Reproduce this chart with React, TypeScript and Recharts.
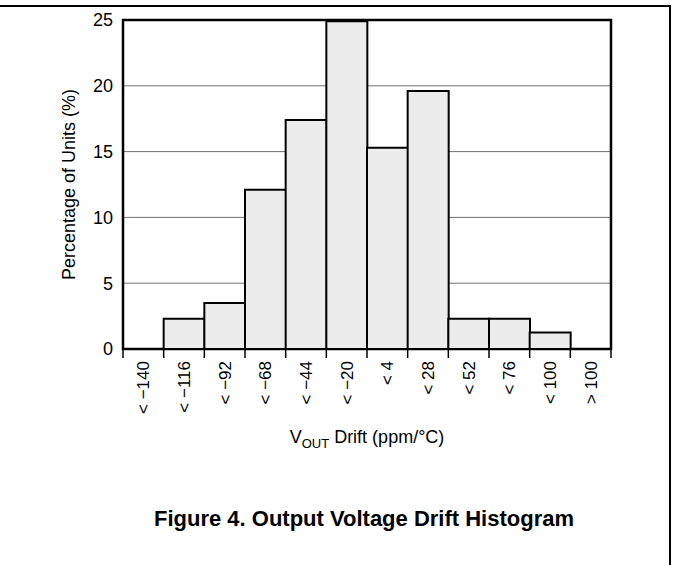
import { Bar, BarChart, CartesianGrid, Label, ReferenceArea, XAxis, YAxis } from 'recharts';

const BINS = ['< \u2212140', '< \u2212116', '< \u221292', '< \u221268', '< \u221244', '< \u221220', '< 4', '< 28', '< 52', '< 76', '< 100', '> 100'];
const PERCENT = [0, 2.3, 3.5, 12.1, 17.4, 24.9, 15.3, 19.6, 2.3, 2.3, 1.25, 0];
const Y_TICKS = [0, 5, 10, 15, 20, 25];

const FONT = 'Arial, "Liberation Sans", Helvetica, sans-serif';

const data = BINS.map((bin, i) => ({ bin, pct: PERCENT[i] }));

function BinTick(props: any) {
    const { x, y, payload, index } = props;
    const half = payload?.offset ?? 20;
    const last = index === BINS.length - 1;
    return (
        <g>
            <line x1={x - half} x2={x - half} y1={y} y2={y + 9} stroke="#000" strokeWidth={1.5} />
            {last && <line x1={x + half} x2={x + half} y1={y} y2={y + 9} stroke="#000" strokeWidth={1.5} />}
            <text
                x={x}
                y={y + 12}
                dy="0.35em"
                transform={`rotate(-90, ${x}, ${y + 12})`}
                textAnchor="end"
                fontSize={17}
                fontFamily={FONT}
                fill="#000"
            >
                {payload.value}
            </text>
        </g>
    );
}

function XTitle(props: any) {
    const vb = props.viewBox;
    const cx = vb.x + vb.width / 2;
    return (
        <text x={cx} y={vb.y + 94} textAnchor="middle" fontSize={18} fontFamily={FONT} fill="#000">
            V<tspan fontSize={13} dy={5}>OUT</tspan>
            <tspan dy={-5}> Drift (ppm/°C)</tspan>
        </text>
    );
}

export default function App() {
    return (
        <div style={{ position: 'absolute', left: 0, top: 0, width: 673, height: 565, background: '#fff' }}>
            <div
                style={{
                    position: 'absolute',
                    left: -4,
                    top: 5,
                    width: 675,
                    height: 562,
                    boxSizing: 'border-box',
                    borderTop: '2px solid #000',
                    borderRight: '2px solid #000',
                }}
            />
            <BarChart
                width={673}
                height={565}
                data={data}
                margin={{ top: 20, right: 62, bottom: 116, left: 0 }}
                barCategoryGap={0}
                barGap={0}
            >
                <CartesianGrid vertical={false} stroke="#707070" strokeWidth={1} />
                <XAxis
                    dataKey="bin"
                    height={100}
                    axisLine={false}
                    tickLine={false}
                    tickSize={0}
                    tickMargin={0}
                    interval={0}
                    tick={<BinTick />}
                >
                    <Label content={<XTitle />} />
                </XAxis>
                <YAxis
                    width={123}
                    domain={[0, 25]}
                    ticks={Y_TICKS}
                    axisLine={false}
                    tickLine={false}
                    tickSize={0}
                    tickMargin={10}
                    tick={{ fontSize: 18, fill: '#000', fontFamily: FONT }}
                >
                    <Label
                        value="Percentage of Units (%)"
                        angle={-90}
                        position="insideLeft"
                        offset={69}
                        style={{ textAnchor: 'middle', fontSize: 18, fontFamily: FONT, fill: '#000' }}
                    />
                </YAxis>
                <Bar dataKey="pct" fill="#ececec" stroke="#000" strokeWidth={2} isAnimationActive={false} />
                <ReferenceArea y1={0} y2={25} fill="none" stroke="#000" strokeWidth={2.5} />
            </BarChart>
            <div
                style={{
                    position: 'absolute',
                    left: 0,
                    width: 728,
                    top: 506,
                    textAlign: 'center',
                    fontFamily: FONT,
                    fontWeight: 'bold',
                    fontSize: 22,
                    color: '#000',
                }}
            >
                Figure 4. Output Voltage Drift Histogram
            </div>
        </div>
    );
}
